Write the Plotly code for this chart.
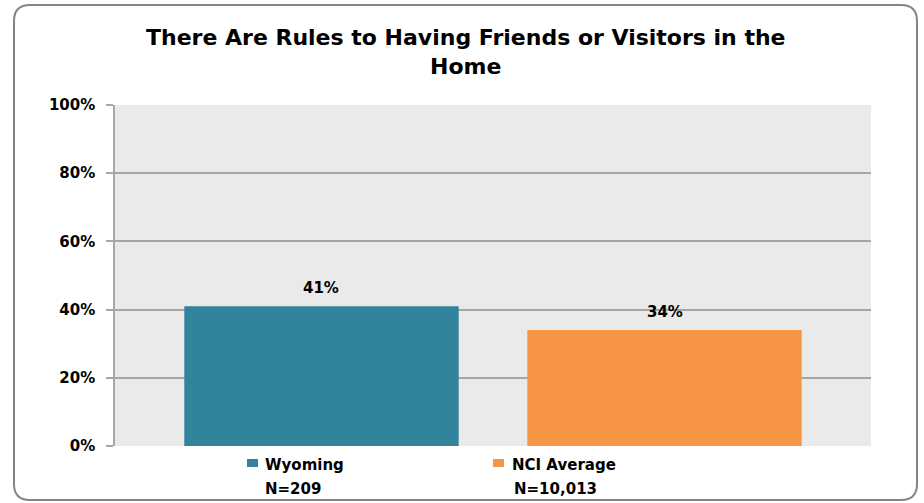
import plotly.graph_objects as go

categories = ["Wyoming", "NCI Average"]
sample_sizes = ["N=209", "N=10,013"]
values = [41, 34]
colors = ["#31849B", "#F79646"]
y_ticks = [0, 20, 40, 60, 80, 100]
y_tick_labels = ["0%", "20%", "40%", "60%", "80%", "100%"]
title_text = "There Are Rules to Having Friends or Visitors in the<br>Home"

W, H = 924, 503
L, R, T, B = 115, 53, 105, 57
PW, PH = W - L - R, H - T - B

def px(x):
    return (x - L) / PW

def py(y):
    return (H - B - y) / PH

fig = go.Figure()
fig.add_trace(go.Bar(
    x=categories, y=values, width=0.8,
    marker=dict(color=colors, line=dict(width=0)),
    showlegend=False, hoverinfo="x+y",
))

for c, v in zip(categories, values):
    fig.add_annotation(x=c, y=v, text=f"<b>{v}%</b>", showarrow=False,
                       yanchor="middle", yshift=18,
                       font=dict(family="DejaVu Sans", size=15, color="#000"))

# rounded border
x0, x1, y0, y1, r = 14, 917, 5, 500, 16
rx, ry = r / PW, r / PH
X0, X1, Y0, Y1 = px(x0), px(x1), py(y0), py(y1)
path = (f"M {X0+rx},{Y0} L {X1-rx},{Y0} Q {X1},{Y0} {X1},{Y0-ry} "
        f"L {X1},{Y1+ry} Q {X1},{Y1} {X1-rx},{Y1} L {X0+rx},{Y1} "
        f"Q {X0},{Y1} {X0},{Y1+ry} L {X0},{Y0-ry} Q {X0},{Y0} {X0+rx},{Y0} Z")
fig.add_shape(type="path", path=path, xref="paper", yref="paper",
              line=dict(color="#858585", width=2), layer="below")

# title
fig.add_annotation(text=f"<b>{title_text}</b>", xref="paper", yref="paper",
                   x=px(466), y=py(52), xanchor="center", yanchor="middle",
                   showarrow=False, align="center",
                   font=dict(family="DejaVu Sans", size=22, color="#000"))

# legend-like labels under the plot
leg_sq_x = [247, 493]
leg_text_x = [263, 510]
leg_n_x = [293, 555]
for i, cat in enumerate(categories):
    fig.add_shape(type="rect", xref="paper", yref="paper",
                  x0=px(leg_sq_x[i]), x1=px(leg_sq_x[i] + 11),
                  y0=py(467), y1=py(459), fillcolor=colors[i], line=dict(width=0))
    fig.add_annotation(text=f"<b>{cat}</b>", xref="paper", yref="paper",
                       x=px(leg_text_x[i]), y=py(465), xanchor="left", yanchor="middle",
                       showarrow=False, font=dict(family="DejaVu Sans", size=15, color="#000"))
    fig.add_annotation(text=f"<b>{sample_sizes[i]}</b>", xref="paper", yref="paper",
                       x=px(leg_n_x[i]), y=py(489), xanchor="center", yanchor="middle",
                       showarrow=False, font=dict(family="DejaVu Sans", size=15, color="#000"))

fig.update_layout(
    width=W, height=H,
    margin=dict(l=L, r=R, t=T, b=B, pad=0),
    paper_bgcolor="#FFFFFF", plot_bgcolor="#EAEAEA",
    font=dict(family="DejaVu Sans"),
)
fig.update_xaxes(range=[-0.602, 1.602], showticklabels=False, showgrid=False,
                 zeroline=False, showline=False, ticks="")
fig.update_yaxes(range=[0, 100], tickvals=y_ticks, ticktext=[f"<b>{t}</b>" for t in y_tick_labels],
                 tickfont=dict(family="DejaVu Sans", size=15, color="#000"),
                 showgrid=True, gridcolor="#A6A6A6", gridwidth=1.5,
                 ticks="outside", ticklen=7, tickcolor="#A6A6A6", tickwidth=1.5,
                 showline=True, linecolor="#A6A6A6", linewidth=1.5,
                 zeroline=False, ticklabelstandoff=8)

fig.write_html("out.html", config={"displayModeBar": False},
               post_script="document.body.style.margin='0';document.body.style.padding='0';")
